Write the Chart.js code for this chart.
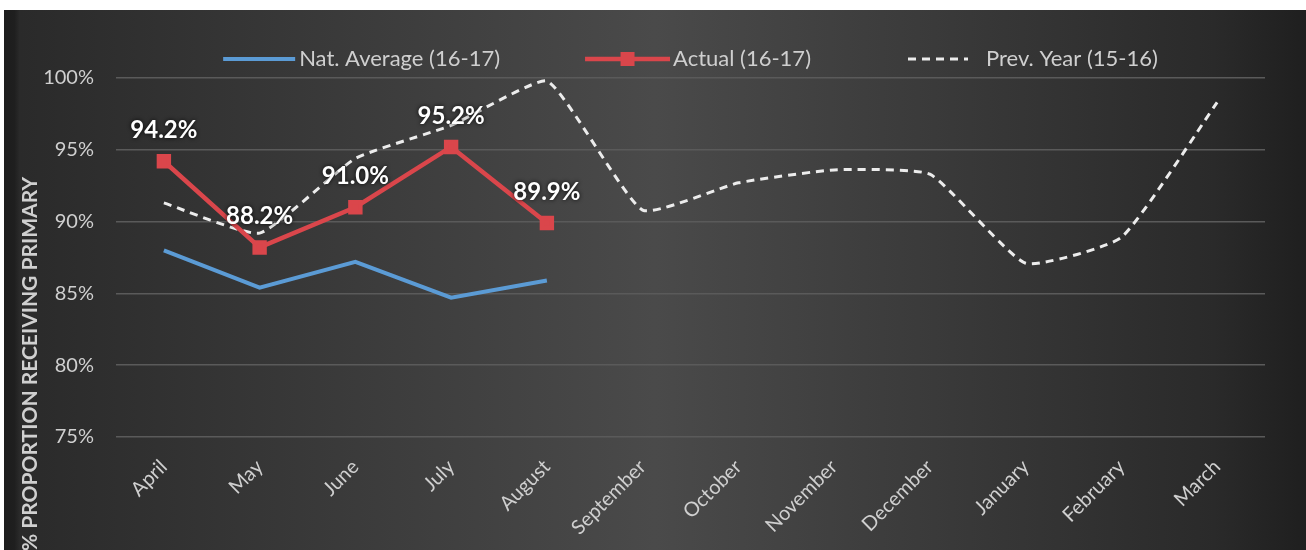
<!DOCTYPE html>
<html>
<head>
<meta charset="utf-8">
<title>Primary offers</title>
<script src="https://cdn.jsdelivr.net/npm/chart.js@4.4.1/dist/chart.umd.min.js"></script>
<style>
  body { margin: 0; background: #ffffff; width: 1306px; height: 550px; overflow: hidden; }
  .contChart { position: absolute; left: 4px; top: 10px; width: 1302px; height: 540px; }
</style>
</head>
<body>
<div class="contChart"><canvas id="primaryChart"></canvas></div>
<script>
// mesi dell'anno scolastico
var months = ['April', 'May', 'June', 'July', 'August', 'September', 'October', 'November', 'December', 'January', 'February', 'March'];
// media nazionale 16-17 (solo fino ad agosto)
var natAverage = [88.0, 85.4, 87.2, 84.7, 85.9];
// valori effettivi 16-17
var actual = [94.2, 88.2, 91.0, 95.2, 89.9];
// anno precedente 15-16
var prevYear = [91.3, 89.2, 94.4, 96.7, 99.8, 90.8, 92.7, 93.6, 93.3, 87.1, 88.9, 98.3];
// etichette asse y
var yTicks = [75, 80, 85, 90, 95, 100];

var seriesNames = ['Nat. Average (16-17)', 'Actual (16-17)', 'Prev. Year (15-16)'];
var axisTitle = '% PROPORTION RECEIVING PRIMARY';

var textColor = '#cfcfcf';
var fontName = 'Lato, "Open Sans", sans-serif';

//Sfondo scuro sfumato
var bgPlugin = {
  id: 'bgPlugin',
  beforeDraw: function (chart) {
    var ctx = chart.ctx;
    var g = ctx.createLinearGradient(0, 0, chart.width, 0);
    g.addColorStop(0, '#1d1d1d');
    g.addColorStop(0.008, '#1f1f1f');
    g.addColorStop(0.012, '#2a2a2a');
    g.addColorStop(0.5, '#4a4a4a');
    g.addColorStop(0.93, '#2a2a2a');
    g.addColorStop(1, '#1f1f1f');
    ctx.save();
    ctx.fillStyle = g;
    ctx.fillRect(0, 0, chart.width, chart.height);
    ctx.restore();
  }
};

//Titolo asse y ruotato
var axisTitlePlugin = {
  id: 'axisTitlePlugin',
  afterDraw: function (chart) {
    var ctx = chart.ctx;
    ctx.save();
    ctx.translate(26, 354);
    ctx.rotate(-Math.PI / 2);
    ctx.font = 'bold 21px ' + fontName;
    ctx.fillStyle = textColor;
    ctx.textAlign = 'center';
    ctx.textBaseline = 'middle';
    ctx.fillText(axisTitle, 0, 0);
    ctx.restore();
  }
};

//Etichette con i valori della serie effettiva
var labelPlugin = {
  id: 'labelPlugin',
  afterDatasetsDraw: function (chart) {
    var ctx = chart.ctx;
    var meta = chart.getDatasetMeta(1);
    ctx.save();
    ctx.font = 'bold 24px ' + fontName;
    ctx.fillStyle = '#ffffff';
    ctx.textAlign = 'center';
    ctx.textBaseline = 'middle';
    ctx.shadowColor = 'rgba(0,0,0,0.9)';
    ctx.shadowBlur = 4;
    for (var i = 0; i < meta.data.length; i++) {
      var pt = meta.data[i];
      ctx.fillText(actual[i].toFixed(1) + '%', pt.x, pt.y - 31);
    }
    ctx.restore();
  }
};

//Legenda in alto
var legendPlugin = {
  id: 'legendPlugin',
  afterDraw: function (chart) {
    var ctx = chart.ctx;
    var area = chart.chartArea;
    var y = 49;
    var sample = [72, 85, 60];
    var gap = [4, 3, 18];
    var space = [85, 97, 0];
    ctx.save();
    ctx.font = '22px ' + fontName;
    var total = 0;
    for (var i = 0; i < 3; i++) {
      total += sample[i] + gap[i] + ctx.measureText(seriesNames[i]).width + space[i];
    }
    var x = (area.left + area.right) / 2 - total / 2;
    for (var j = 0; j < 3; j++) {
      var ds = chart.data.datasets[j];
      ctx.save();
      ctx.strokeStyle = ds.borderColor;
      ctx.lineWidth = ds.borderWidth;
      if (ds.borderDash) ctx.setLineDash(ds.borderDash);
      ctx.beginPath();
      ctx.moveTo(x, y);
      ctx.lineTo(x + sample[j], y);
      ctx.stroke();
      if (ds.pointRadius) {
        ctx.fillStyle = ds.pointBackgroundColor;
        var r = ds.pointRadius;
        ctx.fillRect(x + sample[j] / 2 - r, y - r, r * 2, r * 2);
      }
      ctx.restore();
      x += sample[j] + gap[j];
      ctx.fillStyle = textColor;
      ctx.textBaseline = 'middle';
      ctx.textAlign = 'left';
      ctx.fillText(seriesNames[j], x, y);
      x += ctx.measureText(seriesNames[j]).width + space[j];
    }
    ctx.restore();
  }
};

function drawChart () {
  var ctx = document.getElementById('primaryChart').getContext('2d');
  var chart = new Chart(ctx, {
    type: 'line',
    data: {
      labels: months,
      datasets: [{
        label: seriesNames[0],
        data: natAverage,
        borderColor: '#5b9bd5',
        borderWidth: 4,
        pointRadius: 0,
        tension: 0
      }, {
        label: seriesNames[1],
        data: actual,
        borderColor: '#da464b',
        backgroundColor: '#da464b',
        pointBackgroundColor: '#da464b',
        pointBorderColor: '#da464b',
        borderWidth: 4.5,
        pointStyle: 'rect',
        pointRadius: 7,
        tension: 0
      }, {
        label: seriesNames[2],
        data: prevYear,
        borderColor: '#ececec',
        borderWidth: 3,
        borderDash: [8, 6],
        pointRadius: 0,
        tension: 0.15
      }]
    },
    options: {
      responsive: false,
      animation: false,
      layout: { padding: { top: 68, right: 41, left: 0, bottom: 0 } },
      plugins: {
        legend: { display: false },
        tooltip: { enabled: false }
      },
      scales: {
        x: {
          offset: true,
          grid: { display: false },
          border: { display: false },
          ticks: {
            color: textColor,
            font: { family: fontName, size: 20 },
            minRotation: 45,
            maxRotation: 45,
            autoSkip: false,
            padding: 10
          },
          afterFit: function (scale) { scale.height = 113; }
        },
        y: {
          min: 75,
          max: 100,
          grid: { color: '#5a5a5a', lineWidth: 1.5, drawTicks: false },
          border: { display: false },
          ticks: {
            color: textColor,
            font: { family: fontName, size: 20 },
            padding: 22,
            callback: function (v) { return v + '%'; }
          },
          afterBuildTicks: function (scale) {
            scale.ticks = yTicks.map(function (v) { return { value: v }; });
          },
          afterFit: function (scale) { scale.width = 112; }
        }
      }
    },
    plugins: [bgPlugin, legendPlugin, labelPlugin, axisTitlePlugin]
  });
}

function init() {
  var canvas = document.getElementById('primaryChart');
  canvas.width = 1302;
  canvas.height = 540;
  drawChart();
}

init();
</script>
</body>
</html>
